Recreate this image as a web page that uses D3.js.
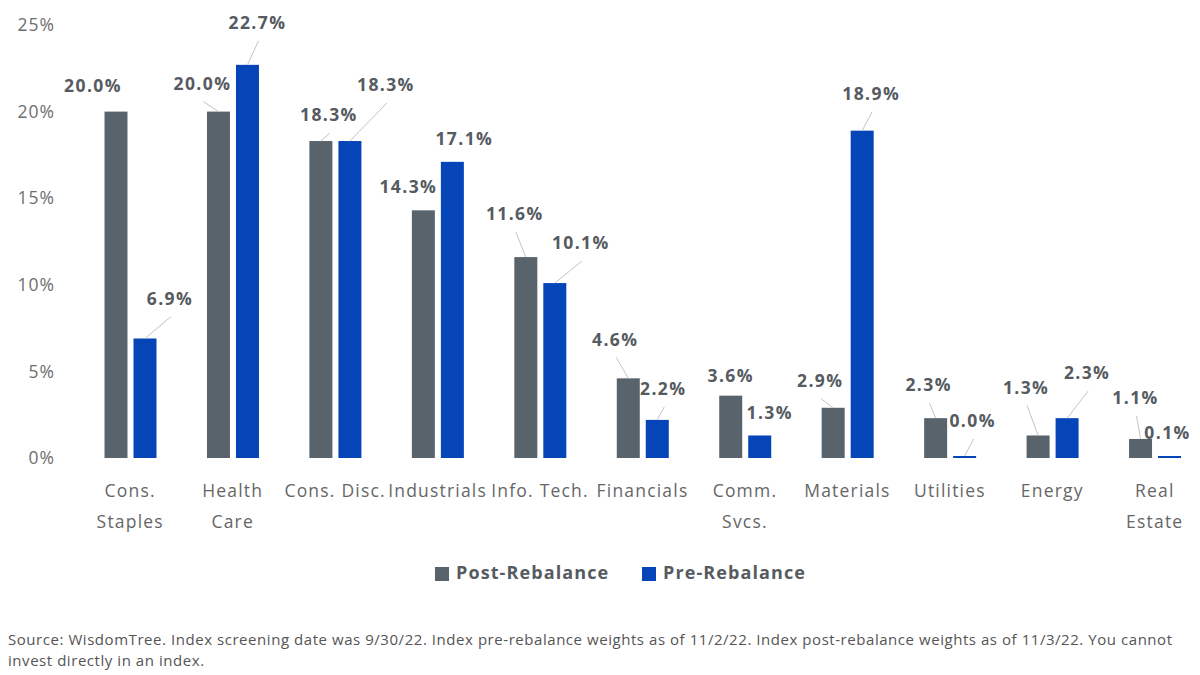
<!DOCTYPE html>
<html lang="en">
<head>
<meta charset="UTF-8">
<script src="https://d3js.org/d3.v7.min.js"></script>
<title>Sector weights</title>
<style>
    body { margin: 0; background: #fff; }
    text { font-family: "Open Sans", "Noto Sans", sans-serif; }
</style>
</head>
<body>
<div id="viz"></div>
<script>
    // data
    const sectors = ["Cons. Staples", "Health Care", "Cons. Disc.", "Industrials", "Info. Tech.", "Financials",
        "Comm. Svcs.", "Materials", "Utilities", "Energy", "Real Estate"]
    const sectorLines = [["Cons.", "Staples"], ["Health", "Care"], ["Cons. Disc."], ["Industrials"], ["Info. Tech."],
        ["Financials"], ["Comm.", "Svcs."], ["Materials"], ["Utilities"], ["Energy"], ["Real", "Estate"]]
    const postRebalance = [20.0, 20.0, 18.3, 14.3, 11.6, 4.6, 3.6, 2.9, 2.3, 1.3, 1.1]
    const preRebalance = [6.9, 22.7, 18.3, 17.1, 10.1, 2.2, 1.3, 18.9, 0.0, 2.3, 0.1]
    const seriesNames = ["Post-Rebalance", "Pre-Rebalance"]
    const yTicks = [0, 5, 10, 15, 20, 25]
    const sourceLines = [
        "Source: WisdomTree. Index screening date was 9/30/22. Index pre-rebalance weights as of 11/2/22. Index post-rebalance weights as of 11/3/22. You cannot",
        "invest directly in an index."
    ]

    // label placement (offset from top centre of bar) and whether a leader line is drawn
    const postLabelPos = [[-23, -26, 0], [-16, -28, 1], [8, -26, 1], [-15, -24, 0], [-11, -43, 1], [-13, -39, 1],
        [0, -20, 0], [-13, -27, 1], [-7, -33, 1], [-12, -48, 1], [-5, -41, 1]]
    const preLabelPos = [[25, -40, 1], [10, -42, 1], [36, -56, 1], [12, -23, 0], [26, -40, 1], [6, -31, 1],
        [10, -23, 0], [9, -37, 1], [8, -35, 1], [20, -45, 1], [-2, -23, 0]]

    const colors = {"Post-Rebalance": "#59636c", "Pre-Rebalance": "#0645b7"}

    const width = 1200
    const height = 675

    const svg = d3.select("#viz")
        .append("svg")
        .attr("width", width)
        .attr("height", height)

    const xScale = d3.scaleBand()
        .domain(sectors)
        .range([79, 1206])

    const xSub = d3.scaleBand()
        .domain(seriesNames)
        .range([25.5, 77.5])
        .paddingInner(0.207)

    const yScale = d3.scaleLinear()
        .domain([0, 25])
        .range([458, 25])

    // y axis, labels only
    const yAxis = svg.append("g")
        .attr("transform", `translate(${62},0)`)
        .call(d3.axisLeft(yScale).tickValues(yTicks).tickFormat(d => d + "%").tickSize(0).tickPadding(7))
    yAxis.select(".domain").remove()
    yAxis.selectAll("text")
        .style("font-family", '"Open Sans", sans-serif')
        .style("font-size", "17.5px")
        .style("letter-spacing", "1px")
        .attr("fill", "#6e6e6e")

    // x axis labels
    const xLabels = svg.append("g")
    sectors.forEach((s, i) => {
        const t = xLabels.append("text")
            .attr("x", xScale(s) + xScale.bandwidth() / 2)
            .attr("y", 497)
            .attr("text-anchor", "middle")
            .attr("fill", "#666")
            .style("font-size", "17.5px")
            .style("letter-spacing", "1.2px")
        sectorLines[i].forEach((line, j) => {
            t.append("tspan")
                .attr("x", xScale(s) + xScale.bandwidth() / 2)
                .attr("dy", j === 0 ? 0 : 31)
                .text(line)
        })
    })

    const rows = sectors.map((s, i) => ({
        sector: s,
        values: [
            {series: "Post-Rebalance", value: postRebalance[i], pos: postLabelPos[i]},
            {series: "Pre-Rebalance", value: preRebalance[i], pos: preLabelPos[i]}
        ]
    }))

    const barX = (r, v) => xScale(r.sector) + xSub(v.series)
    const barTop = v => Math.min(yScale(v.value), yScale(0) - 2)

    const groups = svg.selectAll(".sector")
        .data(rows)
        .enter()
        .append("g")
        .attr("class", "sector")

    groups.selectAll("rect")
        .data(r => r.values.map(v => ({r, v})))
        .enter()
        .append("rect")
        .attr("x", d => barX(d.r, d.v))
        .attr("y", d => barTop(d.v))
        .attr("width", xSub.bandwidth())
        .attr("height", d => yScale(0) - barTop(d.v))
        .attr("fill", d => colors[d.v.series])

    // leader lines
    groups.selectAll("line")
        .data(r => r.values.filter(v => v.pos[2]).map(v => ({r, v})))
        .enter()
        .append("line")
        .attr("x1", d => barX(d.r, d.v) + xSub.bandwidth() / 2 + d.v.pos[0] + 1)
        .attr("y1", d => barTop(d.v) + d.v.pos[1] + 18)
        .attr("x2", d => barX(d.r, d.v) + xSub.bandwidth() / 2)
        .attr("y2", d => barTop(d.v))
        .attr("stroke", "#c4c4c4")
        .attr("stroke-width", 1)

    // value labels
    groups.selectAll(".val")
        .data(r => r.values.map(v => ({r, v})))
        .enter()
        .append("text")
        .attr("class", "val")
        .attr("x", d => barX(d.r, d.v) + xSub.bandwidth() / 2 + d.v.pos[0])
        .attr("y", d => barTop(d.v) + d.v.pos[1])
        .attr("dy", "0.36em")
        .attr("text-anchor", "middle")
        .attr("fill", "#555b61")
        .style("font-size", "17.5px")
        .style("font-weight", "700")
        .style("letter-spacing", "1.4px")
        .text(d => d.v.value.toFixed(1) + "%")

    // legend
    const legend = svg.append("g")
    const legendX = [435, 642]
    seriesNames.forEach((name, i) => {
        legend.append("rect")
            .attr("x", legendX[i])
            .attr("y", 567)
            .attr("width", 14)
            .attr("height", 14)
            .attr("fill", colors[name])
        legend.append("text")
            .attr("x", legendX[i] + 21)
            .attr("y", 573)
            .attr("dy", "0.36em")
            .attr("fill", "#555b61")
            .style("font-size", "18px")
            .style("font-weight", "700")
            .style("letter-spacing", "1.1px")
            .text(name)
    })

    // source note
    svg.append("g").selectAll("text")
        .data(sourceLines)
        .enter()
        .append("text")
        .attr("x", 8)
        .attr("y", (d, i) => 645 + i * 21)
        .attr("fill", "#555")
        .style("font-size", "15px")
        .style("letter-spacing", "0.55px")
        .text(d => d)
</script>
</body>
</html>
